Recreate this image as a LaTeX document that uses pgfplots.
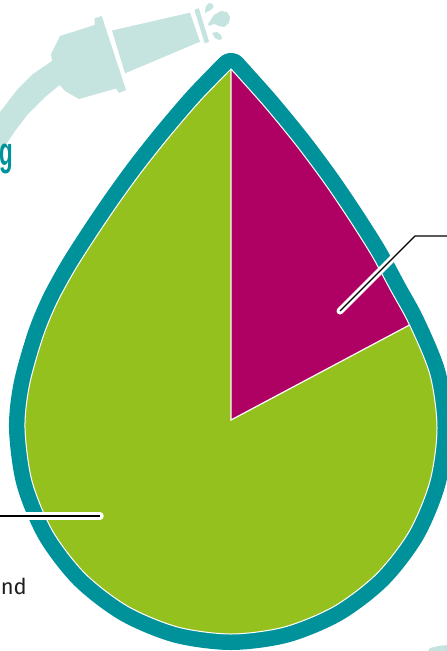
\documentclass[border=0pt]{standalone}
\usepackage{fontspec}
\setmainfont{Fira Sans}
\newfontfamily\gfont{Liberation Sans}
\usepackage{pgfplots}
\usepackage{pgfplotstable}
\pgfplotsset{compat=1.18}
\definecolor{dteal}{HTML}{00929B}
\definecolor{dgreen}{HTML}{95C11F}
\definecolor{dmag}{HTML}{AF0064}
\definecolor{dlight}{HTML}{C5E3DF}
\definecolor{dtext}{HTML}{1D1D1B}
\pgfplotstableread{
x y
231 69
264 106
296 145
325 184
350 221
372 256
391 291
409.5 325
430 375
437 428
430 481
409.4 531
376.7 573.7
334 606.4
284.3 627
231 634
177.7 627
128 606.4
85.3 573.7
52.6 531
32 481
25 428
29.5 385
43 337
57 303
75 270
96 237
119 203
143 170
170 136
200 101
231 69
}\droptable
\pgfplotstableread{
x y
231 69
264 106
296 145
325 184
350 221
372 256
391 291
409.5 325
}\magtable
\begin{document}
\begin{tikzpicture}
\begin{axis}[
  name=main, anchor=south west, at={(0,0)},
  scale only axis, width=447bp, height=651bp,
  xmin=0, xmax=447, ymin=0, ymax=651, y dir=reverse,
  hide axis, clip=true]
% hose and nozzle
\addplot[fill=dlight, draw=none, forget plot] coordinates {(0,112)(17,90)(33,74)(52,61)(51,54)(60,36)(94.5,25)(94.5,18.5)(101.7,16)(126,90)(119,93)(116,88.5)(79,99)(65,91)(59.5,85)(44,98)(28,114)(15,131)(7,143)(0,150)} -- cycle;
\addplot[fill=dlight, draw=none, forget plot] coordinates {(112,30.5)(190,12.7)(200,41.7)(125,73.3)} -- cycle;
\addplot[fill=dlight, draw=dlight, line width=1bp, line join=round, forget plot] coordinates {(195,10)(198.5,8.8)(208.5,41.5)(205,42.7)} -- cycle;
\addplot[fill=dlight, draw=none, forget plot] coordinates {(204.5,13)(206,6)(209,3)(212.5,4)(213.5,7)(211,10)} -- cycle;
\addplot[fill=dlight, draw=none, forget plot] coordinates {(208,24)(214,15)(221,11)(227,12)(230,17)(229,23)(224,27)(219,26)(214,24)(209,26)} -- cycle;
\addplot[fill=dlight, draw=none, forget plot] coordinates {(212,33)(217,32)(221,35)(222,39)(219,40)(215,38)} -- cycle;
\addplot[fill=dlight, draw=none, forget plot] coordinates {(428,651)(430,648)(438,646)(447,645)(447,651)} -- cycle;
% drop
\addplot[smooth, draw=dteal, line width=32bp, line join=round, fill=dteal, forget plot] table {\droptable} -- cycle;
\addplot[smooth, draw=none, fill=dgreen, forget plot] table {\droptable} -- cycle;
\addplot[smooth, draw=none, fill=dmag, forget plot] table {\magtable} -- (axis cs:231,420) -- cycle;
\addplot[smooth, draw=white, line width=1bp, line join=round, forget plot] table {\droptable} -- cycle;
\addplot[draw=white, line width=1.2bp, line join=miter, forget plot] coordinates {(409.5,325)(231,420)(231,69)};
% leaders
\addplot[draw=white, line width=7bp, line cap=round, line join=round, forget plot] coordinates {(415,236)(340,311)};
\addplot[draw=black, line width=1.2bp, line join=round, forget plot] coordinates {(447,236)(415,236)(340,311)};
\addplot[draw=white, line width=7.5bp, line cap=round, forget plot] coordinates {(0,516)(100,516)};
\addplot[draw=black, line width=1.2bp, forget plot] coordinates {(0,516)(100,516)};
% text
\node[anchor=base east, inner sep=0pt, text=dteal] at (axis cs:13,165) {\scalebox{0.56}[1]{\fontsize{40}{40}\selectfont\gfont\bfseries g}};
\node[anchor=base east, inner sep=0pt, text=dtext] at (axis cs:27,594) {\fontsize{22}{24}\selectfont and};
\end{axis}
\pgfresetboundingbox
\path[use as bounding box] (0,0) rectangle (447bp,651bp);
\end{tikzpicture}
\end{document}
